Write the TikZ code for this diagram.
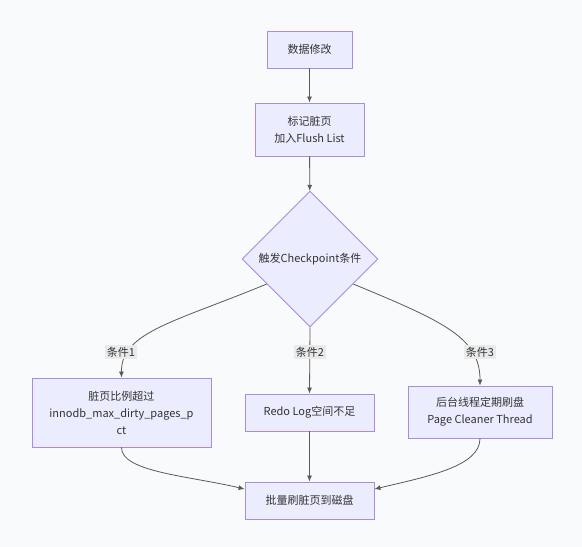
\documentclass[tikz,border=0pt]{standalone}
\usepackage{fontspec}
\setmainfont{Noto Sans CJK SC}
\usetikzlibrary{shapes.geometric,arrows.meta}
\definecolor{boxfill}{HTML}{ECECFF}
\definecolor{boxline}{HTML}{A98BE0}
\definecolor{edgeline}{HTML}{5A5A5A}
\definecolor{lblfill}{HTML}{EAEAEA}
\definecolor{txt}{HTML}{333333}
\definecolor{paper}{HTML}{F9FAFB}
\tikzset{
  box/.style={draw=boxline,fill=boxfill,line width=0.9pt,text=txt,align=center,inner sep=0pt},
  check/.style={diamond,draw=boxline,fill=boxfill,line width=0.9pt,text=txt,inner sep=0pt,minimum width=136pt,minimum height=136pt},
  edge/.style={draw=edgeline,line width=0.8pt,-{Latex[length=6pt,width=5pt]}},
  lbl/.style={fill=lblfill,text=txt,inner sep=1.5pt}
}
\begin{document}
\begin{tikzpicture}[x=1pt,y=-1pt,font=\fontsize{11}{17}\selectfont]
\fill[paper] (0,0) rectangle (582,547);
\useasboundingbox (0,0) rectangle (582,547);
\node[box,minimum width=85pt,minimum height=37pt] (edit) at (309.5,49.5) {数据修改};
\node[box,minimum width=109pt,minimum height=53pt] (mark) at (309.5,129.5) {标记脏页\\加入Flush List};
\node[check] (cond) at (310,259) {触发Checkpoint条件};
\node[box,minimum width=179pt,minimum height=69pt] (ratio) at (121.5,412.5) {脏页比例超过\\innodb\_max\_dirty\_pages\_p\\ct};
\node[box,minimum width=129pt,minimum height=37pt] (redo) at (309.5,412.5) {Redo Log空间不足};
\node[box,minimum width=144pt,minimum height=52pt] (cleaner) at (480,412) {后台线程定期刷盘\\Page Cleaner Thread};
\node[box,minimum width=129pt,minimum height=37pt] (flush) at (309.5,500.5) {批量刷脏页到磁盘};
\draw[edge] (edit) -- (mark);
\draw[edge] (mark) -- (cond);
\draw[edge] (cond.-150) .. controls (175,322) and (121,332) .. (ratio.north);
\draw[edge] (cond.south) -- (redo.north);
\draw[edge] (cond.-30) .. controls (445,322) and (480,338) .. (cleaner.north);
\node[lbl] (c1) at (121,352) {条件1};
\node[lbl] (c2) at (310,352) {条件2};
\node[lbl] (c3) at (480,352) {条件3};
\draw[edge] (ratio.south) .. controls (121,472) and (190,476) .. (flush.170);
\draw[edge] (redo.south) -- (flush.north);
\draw[edge] (cleaner.south) .. controls (480,466) and (430,476) .. (flush.10);
\end{tikzpicture}
\end{document}
